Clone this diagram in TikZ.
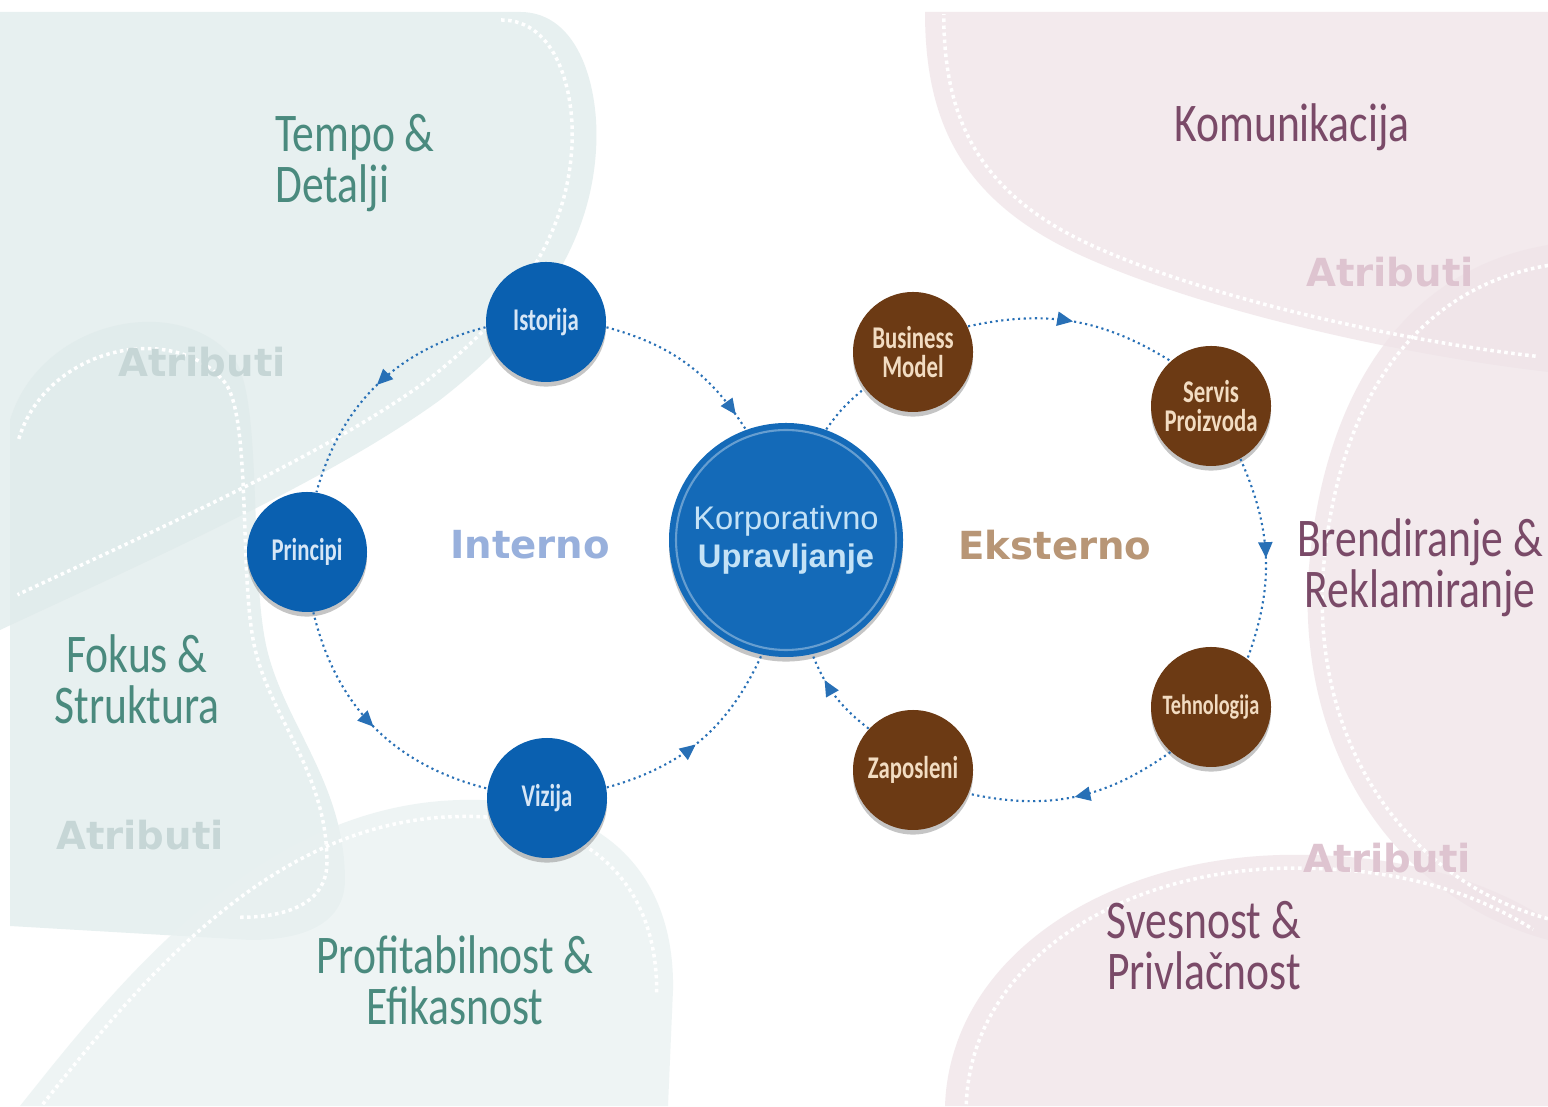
\documentclass[tikz,border=0pt]{standalone}
\usepackage{fontspec}
\usepackage{tikz}
\usetikzlibrary{arrows.meta,decorations.markings,shadows}
\newfontfamily\labelfont[FakeStretch=0.8]{Carlito}
\newfontfamily\circfont[FakeStretch=0.72]{Carlito}
\newfontfamily\heavyfont{DejaVu Sans}
\newfontfamily\corpfont{Liberation Sans}
\definecolor{tealbg}{RGB}{224,235,235}
\definecolor{pinkbg}{RGB}{239,228,232}
\definecolor{tealtext}{RGB}{74,138,126}
\definecolor{plumtext}{RGB}{122,74,104}
\definecolor{attrteal}{RGB}{198,214,214}
\definecolor{attrpink}{RGB}{222,196,208}
\definecolor{corpblue}{RGB}{20,106,184}
\definecolor{inblue}{RGB}{10,96,176}
\definecolor{darkbrown}{RGB}{108,58,20}
\definecolor{inlabel}{RGB}{214,230,246}
\definecolor{exlabel}{RGB}{242,220,194}
\definecolor{corptext}{RGB}{196,226,246}
\definecolor{internotext}{RGB}{152,176,220}
\definecolor{eksternotext}{RGB}{184,150,118}
\definecolor{linkblue}{RGB}{40,112,182}

\begin{document}
\begin{tikzpicture}[
    bubble/.style={circle, minimum size=1.2cm, inner sep=0pt, align=center,
      font=\circfont\bfseries\fontsize{9}{8}\selectfont,
      drop shadow={shadow xshift=0pt, shadow yshift=-1.3pt, opacity=0.45}},
    inbubble/.style={bubble, fill=inblue, text=inlabel},
    exbubble/.style={bubble, fill=darkbrown, text=exlabel},
    link/.style={densely dotted, line width=0.6pt, draw=linkblue},
    flow/.style={link, postaction={decorate}, decoration={markings,
      mark=at position #1 with {\arrow[linkblue]{Triangle[length=4.5pt,width=4pt]}}}},
    flow/.default=0.5,
    theme/.style={align=center, font=\labelfont\fontsize{15.5}{14.5}\selectfont},
    attr/.style={font=\heavyfont\bfseries\fontsize{11}{13}\selectfont},
    blob/.style={fill=#1, fill opacity=0.75},
    blobdots/.style={white, densely dotted, line width=1pt}
  ]
    \useasboundingbox (0,0) rectangle (15.48,11.06);
    \clip (0,0) rectangle (15.48,11.06);
    \fill[white] (0,0) rectangle (15.48,11.06);

    %% Left blobs
    \path[blob=tealbg] (0,10.94) -- (5.20,10.94) .. controls (5.80,10.94) and (6.00,10.16) .. (5.96,9.56) .. controls (5.90,8.56) and (5.30,7.76) .. (4.40,7.06) .. controls (3.30,6.26) and (1.50,5.46) .. (0,4.76) -- cycle;
    \path[blob=tealbg] (0.10,6.86) .. controls (0.40,7.86) and (1.80,8.16) .. (2.35,7.46) .. controls (2.62,7.06) and (2.50,5.46) .. (2.65,4.66) .. controls (2.80,3.86) and (3.45,3.26) .. (3.45,2.26) .. controls (3.45,1.86) and (3.10,1.66) .. (2.50,1.66) -- (0.10,1.80) -- cycle;
    \path[blob=tealbg!70] (0.20,0) .. controls (1.20,1.26) and (2.60,3.01) .. (4.60,3.06) .. controls (6.10,3.10) and (6.75,2.26) .. (6.73,1.16) -- (6.68,0) -- cycle;
    \draw[blobdots, scale around={0.93:(2.5,9.8)}] (5.20,10.94) .. controls (5.80,10.94) and (6.00,10.16) .. (5.96,9.56) .. controls (5.90,8.56) and (5.30,7.76) .. (4.40,7.06) .. controls (3.30,6.26) and (1.50,5.46) .. (0,4.76);
    \draw[blobdots, scale around={0.92:(1.2,4.5)}] (0.10,6.86) .. controls (0.40,7.86) and (1.80,8.16) .. (2.35,7.46) .. controls (2.62,7.06) and (2.50,5.46) .. (2.65,4.66) .. controls (2.80,3.86) and (3.45,3.26) .. (3.45,2.26) .. controls (3.45,1.86) and (3.10,1.66) .. (2.50,1.66);
    \draw[blobdots, scale around={0.94:(4.0,0.3)}] (0.20,0) .. controls (1.20,1.26) and (2.60,3.01) .. (4.60,3.06) .. controls (6.10,3.10) and (6.75,2.26) .. (6.73,1.16);

    %% Right blobs
    \path[blob=pinkbg] (9.25,10.94) -- (15.48,10.94) -- (15.48,7.34) .. controls (14.00,7.51) and (12.00,7.96) .. (10.80,8.51) .. controls (9.60,9.06) and (9.25,9.86) .. (9.25,10.94) -- cycle;
    \path[blob=pinkbg] (15.48,8.61) .. controls (14.00,8.36) and (13.20,7.06) .. (13.08,5.26) .. controls (13.00,3.46) and (14.00,2.06) .. (15.48,1.66) -- cycle;
    \path[blob=pinkbg] (9.45,0) .. controls (9.50,1.46) and (11.00,2.46) .. (12.80,2.51) .. controls (14.20,2.54) and (15.00,2.16) .. (15.48,1.86) -- (15.48,0) -- cycle;
    \draw[blobdots, scale around={0.95:(13,10.5)}] (15.48,7.34) .. controls (14.00,7.51) and (12.00,7.96) .. (10.80,8.51) .. controls (9.60,9.06) and (9.25,9.86) .. (9.25,10.94);
    \draw[blobdots, scale around={0.94:(15.5,5.2)}] (15.48,8.61) .. controls (14.00,8.36) and (13.20,7.06) .. (13.08,5.26) .. controls (13.00,3.46) and (14.00,2.06) .. (15.48,1.66);
    \draw[blobdots, scale around={0.94:(13,0.3)}] (9.45,0) .. controls (9.50,1.46) and (11.00,2.46) .. (12.80,2.51) .. controls (14.20,2.54) and (15.00,2.16) .. (15.48,1.86);

    %% Theme labels
    \node[theme, text=tealtext, anchor=west, align=left] (tempo) at (2.63,9.43) {Tempo \&\\Detalji};
    \node[theme, text=tealtext] (fokus) at (1.37,4.27) {Fokus \&\\Struktura};
    \node[theme, text=tealtext] (profit) at (4.55,1.26) {Profitabilnost \&\\Efikasnost};
    \node[theme, text=plumtext] (komun) at (12.92,9.79) {Komunikacija};
    \node[theme, text=plumtext] (brend) at (14.20,5.38) {Brendiranje \&\\Reklamiranje};
    \node[theme, text=plumtext] (svesnost) at (12.04,1.60) {Svesnost \&\\Privlačnost};

    \node[attr, text=attrteal] (attrA) at (2.02,7.44) {Atributi};
    \node[attr, text=attrteal] (attrB) at (1.40,2.71) {Atributi};
    \node[attr, text=attrpink] (attrC) at (13.90,8.34) {Atributi};
    \node[attr, text=attrpink] (attrD) at (13.87,2.48) {Atributi};

    %% Inner loop
    \node[inbubble, minimum size=2.34cm, fill=corpblue, text=corptext,
      font=\corpfont\fontsize{9.3}{10.8}\selectfont] (korp) at (7.86,5.66) {Korporativno\\\textbf{Upravljanje}};
    \draw[white, opacity=0.35, line width=0.6pt] (korp) circle (1.1cm);
    \node[inbubble] (istorija) at (5.46,7.84) {Istorija};
    \node[inbubble] (principi) at (3.07,5.54) {Principi};
    \node[inbubble] (vizija) at (5.47,3.08) {Vizija};
    \node[attr, text=internotext] (interno) at (5.30,5.61) {Interno};

    %% Outer loop
    \node[exbubble] (bizmodel) at (9.13,7.54) {Business\\Model};
    \node[exbubble] (servis) at (12.11,7.00) {Servis\\Proizvoda};
    \node[exbubble, font=\circfont\bfseries\fontsize{8}{8}\selectfont] (tehno) at (12.11,3.99) {Tehnologija};
    \node[exbubble] (zaposleni) at (9.13,3.36) {Zaposleni};
    \node[attr, text=eksternotext] (eksterno) at (10.55,5.61) {Eksterno};

    %% Connectors
    \draw[flow] (istorija.185) to[bend right=30] (principi.81);
    \draw[flow] (principi.276) to[bend right=31] (vizija.171);
    \draw[flow=0.47] (vizija.10) to[bend right=25] (korp.258);
    \draw[flow=0.9] (istorija.355) to[bend left=21] (korp.110);
    \draw[link] (korp.70) to[bend left=8] (bizmodel.217);
    \draw[flow] (bizmodel.25) to[bend left=22] (servis.132);
    \draw[flow] (servis.299) to[bend left=22] (tehno.53);
    \draw[flow] (tehno.228) to[bend left=24] (zaposleni.337);
    \draw[flow=0.7] (zaposleni.137) to[bend left=15] (korp.283);
\end{tikzpicture}
\end{document}
